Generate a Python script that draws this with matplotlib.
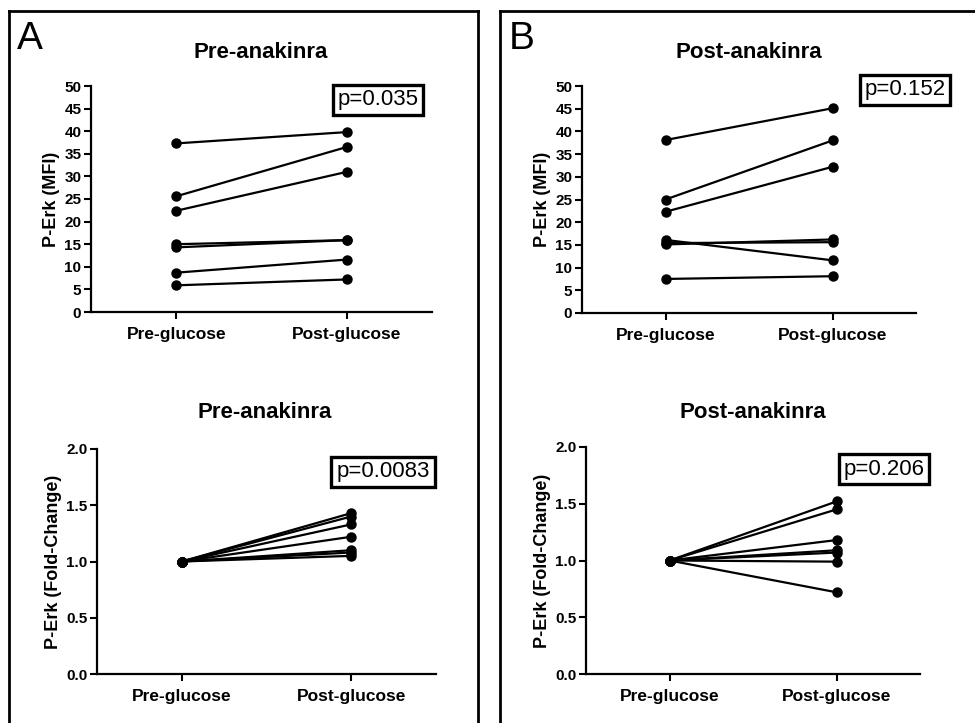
import matplotlib
matplotlib.use("Agg")
import matplotlib.pyplot as plt
from matplotlib.lines import Line2D

plt.rcParams['font.family'] = ['Liberation Sans', 'DejaVu Sans']

# Data
categories = ["Pre-glucose", "Post-glucose"]

mfi_pre_anakinra_pre = [37.3, 25.6, 22.4, 15.0, 14.3, 8.7, 5.9]
mfi_pre_anakinra_post = [39.8, 36.5, 31.0, 15.9, 15.9, 11.6, 7.2]

mfi_post_anakinra_pre = [38.1, 25.0, 22.3, 16.1, 15.1, 15.4, 7.5]
mfi_post_anakinra_post = [45.1, 38.0, 32.2, 11.6, 16.2, 15.6, 8.1]

fold_pre_anakinra_pre = [1.0, 1.0, 1.0, 1.0, 1.0, 1.0, 1.0]
fold_pre_anakinra_post = [1.43, 1.40, 1.33, 1.22, 1.10, 1.08, 1.05]

fold_post_anakinra_pre = [1.0, 1.0, 1.0, 1.0, 1.0, 1.0, 1.0]
fold_post_anakinra_post = [1.52, 1.45, 1.18, 1.09, 1.07, 0.99, 0.72]

mfi_ticks = [0, 5, 10, 15, 20, 25, 30, 35, 40, 45, 50]
fold_ticks = [0.0, 0.5, 1.0, 1.5, 2.0]

W, H = 975, 723
fig = plt.figure(figsize=(W / 100, H / 100), dpi=100)
fig.patch.set_facecolor("white")


def ax_at(x0, x1, ytop, ybot):
    return fig.add_axes([x0 / W, 1 - ybot / H, (x1 - x0) / W, (ybot - ytop) / H])


def fx(x):
    return x / W


def fy(y):
    return 1 - y / H


def draw_panel(ax, pre, post, ticks, fmt, ylabel, pval, pbox_xy):
    for a, b in zip(pre, post):
        ax.plot([0, 1], [a, b], color="black", lw=1.6, marker="o",
                markersize=6.5, markerfacecolor="black", markeredgecolor="black",
                solid_capstyle="round", clip_on=False, zorder=3)
    ax.set_xlim(-0.5, 1.5)
    ax.set_ylim(ticks[0], ticks[-1])
    ax.set_yticks(ticks)
    ax.set_yticklabels([fmt.format(t) for t in ticks], fontsize=11, fontweight="bold")
    ax.set_xticks([0, 1])
    ax.set_xticklabels(categories, fontsize=12.5, fontweight="bold")
    ax.tick_params(axis="both", direction="out", length=5, width=1.5, pad=2)
    ax.tick_params(axis="x", pad=6)
    for s in ("top", "right"):
        ax.spines[s].set_visible(False)
    for s in ("left", "bottom"):
        ax.spines[s].set_linewidth(1.6)
    ax.set_ylabel(ylabel, fontsize=13, fontweight="bold", labelpad=3)
    ax.set_facecolor("none")
    px, py = pbox_xy
    fig.text(fx(px), fy(py), pval, fontsize=16, ha="center", va="center",
             bbox=dict(boxstyle="square,pad=0.22", facecolor="white",
                       edgecolor="black", linewidth=2.4))


# Upper left: MFI before anakinra
axA1 = ax_at(91, 432, 86, 312)
draw_panel(axA1, mfi_pre_anakinra_pre, mfi_pre_anakinra_post, mfi_ticks, "{:d}",
           "P-Erk (MFI)", "p=0.035", (378, 100))
fig.text(fx(261), fy(52), "Pre-anakinra", fontsize=16, fontweight="bold",
         ha="center", va="center")

# Upper right: MFI after anakinra
axB1 = ax_at(582, 916, 86, 313)
draw_panel(axB1, mfi_post_anakinra_pre, mfi_post_anakinra_post, mfi_ticks, "{:d}",
           "P-Erk (MFI)", "p=0.152", (905, 90))
fig.text(fx(749), fy(52), "Post-anakinra", fontsize=16, fontweight="bold",
         ha="center", va="center")

# Lower left: fold change before anakinra
axA2 = ax_at(97, 436, 449, 674)
draw_panel(axA2, fold_pre_anakinra_pre, fold_pre_anakinra_post, fold_ticks, "{:.1f}",
           "P-Erk (Fold-Change)", "p=0.0083", (383, 472))
fig.text(fx(265), fy(413), "Pre-anakinra", fontsize=16, fontweight="bold",
         ha="center", va="center")

# Lower right: fold change after anakinra
axB2 = ax_at(586, 920, 447, 674)
draw_panel(axB2, fold_post_anakinra_pre, fold_post_anakinra_post, fold_ticks, "{:.1f}",
           "P-Erk (Fold-Change)", "p=0.206", (884, 469))
fig.text(fx(753), fy(413), "Post-anakinra", fontsize=16, fontweight="bold",
         ha="center", va="center")

# Panel frames and letters
frame_kw = dict(color="black", lw=2.0, transform=fig.transFigure, clip_on=False)
fig.add_artist(Line2D([fx(9), fx(9)], [fy(11), fy(730)], **frame_kw))
fig.add_artist(Line2D([fx(9), fx(478)], [fy(11), fy(11)], **frame_kw))
fig.add_artist(Line2D([fx(478), fx(478)], [fy(11), fy(730)], **frame_kw))
fig.add_artist(Line2D([fx(500), fx(500)], [fy(11), fy(730)], **frame_kw))
fig.add_artist(Line2D([fx(500), fx(980)], [fy(11), fy(11)], **frame_kw))

fig.text(fx(30), fy(39), "A", fontsize=28, ha="center", va="center")
fig.text(fx(522), fy(39), "B", fontsize=28, ha="center", va="center")

fig.savefig("out.png", dpi=100, facecolor="white")
